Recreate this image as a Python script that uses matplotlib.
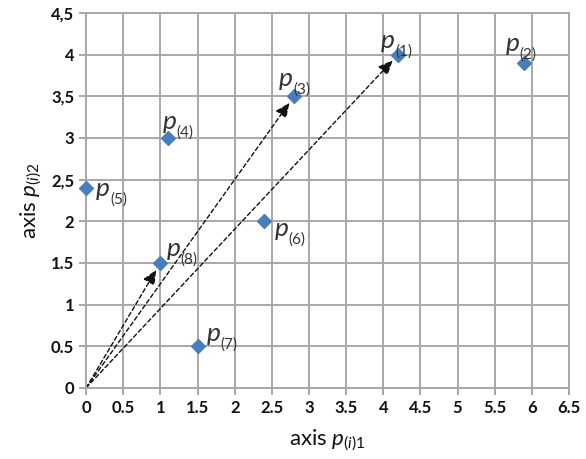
import matplotlib
matplotlib.use("Agg")
import matplotlib.pyplot as plt
import numpy as np

plt.rcParams['font.family'] = ['Lato', 'DejaVu Sans']
plt.rcParams['mathtext.fontset'] = 'custom'
plt.rcParams['mathtext.rm'] = 'Lato'
plt.rcParams['mathtext.it'] = 'Lato:italic'

# points
names = ['1', '2', '3', '4', '5', '6', '7', '8']
px = [4.2, 5.9, 2.8, 1.1, 0.0, 2.4, 1.5, 1.0]
py = [4.0, 3.9, 3.5, 3.0, 2.4, 2.0, 0.5, 1.5]

# label offsets (pixels) of the "p" relative to each marker
lbl_dx = [-17, -19, -15, -5, 10, 10, 9, 6]
lbl_dy = [7, 12, 10, 9, -8, -15, 5, 7]

# vectors drawn from the origin
arrows_to = ['1', '3', '8']

xticks = np.arange(0, 6.51, 0.5)
yticks = np.arange(0, 4.51, 0.5)
xtick_labels = ['0', '0.5', '1', '1.5', '2', '2.5', '3', '3.5', '4', '4.5', '5', '5.5', '6', '6.5']
ytick_labels = ['0', '0.5', '1', '1.5', '2', '2,5', '3', '3,5', '4', '4,5']

fig = plt.figure(figsize=(5.86, 4.59), dpi=100)
ax = fig.add_axes([0.147, 0.155, 0.824, 0.817])

for n in arrows_to:
    i = names.index(n)
    x1, y1 = px[i], py[i]
    L = np.hypot(x1, y1)
    shrink = 0.1
    ax.annotate('', xy=(x1 * (1 - shrink / L), y1 * (1 - shrink / L)), xytext=(0, 0),
                arrowprops=dict(arrowstyle='-|>,head_length=0.8,head_width=0.35',
                                color='#111111', lw=1.0,
                                linestyle=(0, (3, 2)), mutation_scale=11,
                                shrinkA=0, shrinkB=0),
                zorder=2)

ax.scatter(px, py, marker='D', s=50, color='#4a7ebb', zorder=3, clip_on=False)

for i, n in enumerate(names):
    ax.annotate('p', (px[i], py[i]),
                xytext=(lbl_dx[i], lbl_dy[i]), textcoords='offset pixels',
                fontsize=19, style='italic', color='#333333',
                va='baseline', ha='left', zorder=4)
    ax.annotate('(%s)' % n, (px[i], py[i]),
                xytext=(lbl_dx[i] + 14, lbl_dy[i] - 8), textcoords='offset pixels',
                fontsize=11, color='#333333',
                va='baseline', ha='left', zorder=4)

ax.set_xlim(0, 6.5)
ax.set_ylim(0, 4.5)
ax.set_xticks(xticks)
ax.set_xticklabels(xtick_labels)
ax.set_yticks(yticks)
ax.set_yticklabels(ytick_labels)
ax.tick_params(labelsize=12, colors='#111111', length=5, color='#a0a0a0', width=1.3)
for lab in ax.get_xticklabels() + ax.get_yticklabels():
    lab.set_fontweight('bold')
ax.grid(True, color='#a8a8a8', lw=1.4)
ax.set_axisbelow(True)
for s in ax.spines.values():
    s.set_color('#a8a8a8')
    s.set_linewidth(1.4)

ax.set_xlabel(r'axis $p_{(i)\mathrm{1}}$', fontsize=16, color='#111111', labelpad=9)
ax.set_ylabel(r'axis $p_{(i)\mathrm{2}}$', fontsize=16, color='#111111', labelpad=5)

fig.savefig('out.png', dpi=100)
